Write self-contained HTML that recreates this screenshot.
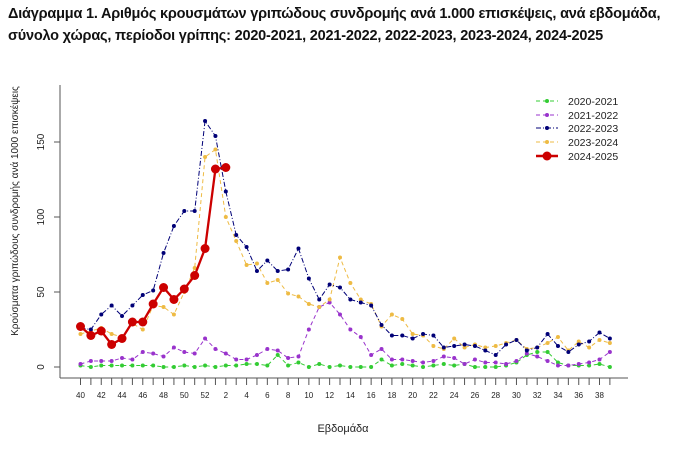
<!DOCTYPE html>
<html><head><meta charset="utf-8"><style>
body{margin:0;background:#fff;width:691px;height:450px;overflow:hidden}
.t{position:absolute;left:8px;font:bold 14.5px "Liberation Sans Narrow","Liberation Sans",sans-serif;color:#111;white-space:nowrap;letter-spacing:-0.2px}
svg{position:absolute;left:0;top:0}
svg text{font-family:"Liberation Sans",sans-serif;fill:#222}
</style></head><body>
<div class="t" style="top:6px">Διάγραμμα 1. Αριθμός κρουσμάτων γριπώδους συνδρομής ανά 1.000 επισκέψεις, ανά εβδομάδα,</div>
<div class="t" style="top:28px">σύνολο χώρας, περίοδοι γρίπης: 2020-2021, 2021-2022, 2022-2023, 2023-2024, 2024-2025</div>
<svg width="691" height="450" id="s">
<g stroke="#555" stroke-width="1">
<line x1="60" y1="85" x2="60" y2="378"/><line x1="60" y1="378" x2="628" y2="378"/>
<line x1="54" y1="367" x2="60" y2="367"/><line x1="54" y1="292" x2="60" y2="292"/><line x1="54" y1="217" x2="60" y2="217"/><line x1="54" y1="142" x2="60" y2="142"/>
</g>
<g font-size="10" text-anchor="middle">
<text transform="translate(44,367) rotate(-90)">0</text>
<text transform="translate(44,292) rotate(-90)">50</text>
<text transform="translate(44,217) rotate(-90)">100</text>
<text transform="translate(44,142) rotate(-90)">150</text>
<text transform="translate(18,211) rotate(-90)" font-size="10">Κρούσματα γριπώδους συνδρομής ανά 1000 επισκέψεις</text>
<text x="343" y="432" font-size="11">Εβδομάδα</text>
</g>
<g id="ticks" stroke="#555"></g>
<g font-size="8" text-anchor="middle">
<text x="80.5" y="398">40</text><text x="101.3" y="398">42</text><text x="122" y="398">44</text><text x="142.8" y="398">46</text><text x="163.5" y="398">48</text><text x="184.3" y="398">50</text><text x="205" y="398">52</text><text x="225.8" y="398">2</text><text x="246.6" y="398">4</text><text x="267.3" y="398">6</text><text x="288.1" y="398">8</text><text x="308.8" y="398">10</text><text x="329.6" y="398">12</text><text x="350.4" y="398">14</text><text x="371.1" y="398">16</text><text x="391.9" y="398">18</text><text x="412.6" y="398">20</text><text x="433.4" y="398">22</text><text x="454.2" y="398">24</text><text x="474.9" y="398">26</text><text x="495.7" y="398">28</text><text x="516.4" y="398">30</text><text x="537.2" y="398">32</text><text x="558" y="398">34</text><text x="578.7" y="398">36</text><text x="599.5" y="398">38</text>
</g>
<g id="series"></g>
<g font-size="10.5">
<line x1="536" y1="101" x2="558" y2="101" stroke="#3c3" stroke-dasharray="4,3"/><circle cx="547" cy="101" r="2" fill="#3c3"/><text x="568" y="105">2020-2021</text>
<line x1="536" y1="115" x2="558" y2="115" stroke="#93c" stroke-dasharray="4,3"/><circle cx="547" cy="115" r="2" fill="#93c"/><text x="568" y="119">2021-2022</text>
<line x1="536" y1="128" x2="558" y2="128" stroke="#007" stroke-dasharray="5,2,1,2"/><circle cx="547" cy="128" r="2" fill="#007"/><text x="568" y="132">2022-2023</text>
<line x1="536" y1="142" x2="558" y2="142" stroke="#eb4" stroke-dasharray="4,3"/><circle cx="547" cy="142" r="2" fill="#eb4"/><text x="568" y="146">2023-2024</text>
<line x1="536" y1="156" x2="558" y2="156" stroke="#c00" stroke-width="2.5"/><circle cx="547" cy="156" r="4.5" fill="#c00"/><text x="568" y="160">2024-2025</text>
</g>
</svg>
<script>
var NS="http://www.w3.org/2000/svg";
function X(i){return 80.5+i*10.38}function Y(v){return 367-v*1.5}
var tk=document.getElementById("ticks");
for(var i=0;i<52;i++){var l=document.createElementNS(NS,"line");l.setAttribute("x1",X(i));l.setAttribute("x2",X(i));l.setAttribute("y1",378);l.setAttribute("y2",385);tk.appendChild(l);}
var S=[
["#3c3","4,3",1,2,[1,0,1,1,1,1,1,1,0,0,1,0,1,0,1,1,2,2,1,8,1,3,0,2,0,1,0,0,0,5,1,2,1,0,1,2,1,2,0,0,0,1,3,8,10,10,3,1,1,1,2,0]],
["#93c","4,3",1,2,[2,4,4,4,6,5,10,9,7,13,10,9,19,12,9,5,5,8,12,11,6,7,25,40,43,35,25,20,8,12,5,5,4,3,4,7,6,2,5,3,3,2,4,9,7,4,1,1,2,3,5,10]],
["#eb4","4,3",1,2,[22,24,26,22,20,29,25,41,40,35,50,66,140,145,100,84,68,69,56,58,49,47,42,40,45,73,56,45,42,27,35,32,22,21,14,12,19,13,15,13,14,16,18,12,13,16,20,11,17,13,18,16]],
["#007","5,2,1,2",1,2,[26,25,35,41,34,41,48,51,76,94,104,104,164,154,117,88,80,64,71,64,65,79,59,45,55,53,45,43,41,28,21,21,19,22,21,13,14,15,14,11,8,15,18,11,13,22,14,10,15,17,23,19]],
["#c00","",2.3,4.5,[27,21,24,15,19,30,30,42,53,45,52,61,79,132,133]]];
var g=document.getElementById("series");
S.forEach(function(s){var p=s[4].map(function(v,i){return X(i)+","+Y(v)}).join(" ");
var pl=document.createElementNS(NS,"polyline");pl.setAttribute("points",p);pl.setAttribute("fill","none");pl.setAttribute("stroke",s[0]);pl.setAttribute("stroke-width",s[2]);if(s[1])pl.setAttribute("stroke-dasharray",s[1]);g.appendChild(pl);
s[4].forEach(function(v,i){var c=document.createElementNS(NS,"circle");c.setAttribute("cx",X(i));c.setAttribute("cy",Y(v));c.setAttribute("r",s[3]);c.setAttribute("fill",s[0]);g.appendChild(c);});});
</script>
</body></html>
